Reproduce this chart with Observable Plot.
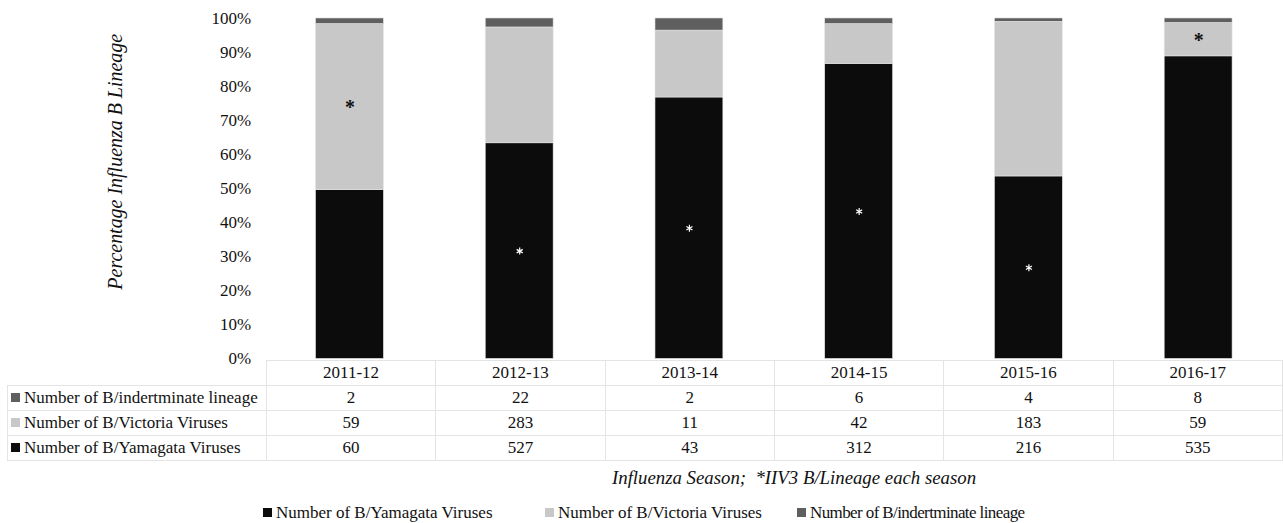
<!DOCTYPE html>
<html>
<head>
<meta charset="utf-8">
<script src="https://cdn.jsdelivr.net/npm/d3@7"></script>
<script src="https://cdn.jsdelivr.net/npm/@observablehq/plot@0.6"></script>
<style>
  html, body { margin: 0; padding: 0; background: #fff; overflow: hidden; }
  body { font-family: "Liberation Serif", "Times New Roman", Tinos, serif; color: #111; }
  #wrap { position: relative; width: 1283px; height: 523px; }
  #chart { position: absolute; left: 0; top: 0; }
  table.dt { position: absolute; left: 7px; top: 360px; border-collapse: collapse; font-size: 17px; }
  table.dt td { border: 1px solid #e4e4e4; text-align: center; padding: 0; height: 24px; line-height: 20px; }
  table.dt td.lab { text-align: left; width: 255px; padding-left: 3px; white-space: nowrap; }
  table.dt td.num { width: 169px; }
  table.dt tr.head td.empty { border: none; border-bottom: 1px solid #e4e4e4; }
  .sw { display: inline-block; width: 9px; height: 9px; margin-right: 4px; vertical-align: 1px; }
  #xtitle { position: absolute; top: 467px; left: 612px; font-size: 18.8px; font-style: italic; white-space: nowrap; }
  #legend .item { position: absolute; top: 503px; font-size: 17px; white-space: nowrap; }
</style>
</head>
<body>
<div id="wrap">
  <div id="chart"></div>
  <div id="table"></div>
  <div id="xtitle">Influenza Season;&nbsp; *IIV3 B/Lineage each season</div>
  <div id="legend"></div>
</div>
<script>
const seasons = ["2011-12", "2012-13", "2013-14", "2014-15", "2015-16", "2016-17"];
const yamagata = [60, 527, 43, 312, 216, 535];
const victoria = [59, 283, 11, 42, 183, 59];
const indeterminate = [2, 22, 2, 6, 4, 8];
// lineage included in IIV3 each season (asterisk)
const iiv3Lineage = ["Victoria", "Yamagata", "Yamagata", "Yamagata", "Yamagata", "Victoria"];
const yTicks = [0, 0.1, 0.2, 0.3, 0.4, 0.5, 0.6, 0.7, 0.8, 0.9, 1];

const seriesNames = {
  Yamagata: "Number of B/Yamagata Viruses",
  Victoria: "Number of B/Victoria Viruses",
  Indeterminate: "Number of B/indertminate lineage"
};
const colors = { Yamagata: "#0c0c0c", Victoria: "#c8c8c8", Indeterminate: "#5f5f5f" };
const order = ["Yamagata", "Victoria", "Indeterminate"];

const rows = [];
seasons.forEach((s, i) => {
  rows.push({ season: s, lineage: "Yamagata", n: yamagata[i], star: iiv3Lineage[i] === "Yamagata" });
  rows.push({ season: s, lineage: "Victoria", n: victoria[i], star: iiv3Lineage[i] === "Victoria" });
  rows.push({ season: s, lineage: "Indeterminate", n: indeterminate[i], star: false });
});

const fontStack = "'Liberation Serif', 'Times New Roman', Tinos, serif";
const stackOpts = { x: "season", y: "n", z: "lineage", order: order, offset: "normalize" };

const chart = Plot.plot({
  width: 1285,
  height: 361,
  marginLeft: 265,
  marginRight: 0,
  marginTop: 18,
  marginBottom: 2,
  style: { fontFamily: fontStack, fontSize: "17px", color: "#111", overflow: "visible" },
  x: { domain: seasons, paddingInner: 0.6, paddingOuter: 0.3, axis: null },
  y: { domain: [0, 1], ticks: yTicks, tickFormat: d3.format(".0%"), tickSize: 0, tickPadding: 14, label: null },
  color: { domain: order, range: order.map(k => colors[k]) },
  marks: [
    Plot.barY(rows, Plot.stackY({ ...stackOpts, fill: "lineage", stroke: "#e6e6e6", strokeWidth: 0.6 })),
    // asterisks: white on Yamagata segments (filtered after stacking)
    Plot.dot(rows, Plot.filter(d => d.star && d.lineage === "Yamagata", Plot.stackY({
      ...stackOpts, symbol: "asterisk", r: 3.3, stroke: "#ffffff", strokeWidth: 1.2
    }))),
    // asterisks: black bold on Victoria segments
    Plot.text(rows, Plot.filter(d => d.star && d.lineage === "Victoria", Plot.stackY({
      ...stackOpts, text: () => "*", fill: "#111111", fontSize: 20, fontWeight: "bold", dy: 1
    }))),
    Plot.text(["Percentage Influenza B Lineage"], {
      frameAnchor: "left", rotate: -90, textAnchor: "middle", dx: -150, dy: -27,
      fontStyle: "italic", fontSize: 20
    })
  ]
});
document.getElementById("chart").appendChild(chart);

// data table
const tbl = document.createElement("table");
tbl.className = "dt";
let html = '<tr class="head"><td class="lab empty"></td>' + seasons.map(s => `<td class="num">${s}</td>`).join("") + "</tr>";
const tableRows = [["Indeterminate", indeterminate], ["Victoria", victoria], ["Yamagata", yamagata]];
for (const [k, vals] of tableRows) {
  html += `<tr><td class="lab"><span class="sw" style="background:${colors[k]}"></span>${seriesNames[k]}</td>` +
    vals.map(v => `<td class="num">${v}</td>`).join("") + "</tr>";
}
tbl.innerHTML = html;
document.getElementById("table").appendChild(tbl);

// legend
const legendLeft = { Yamagata: 263, Victoria: 545, Indeterminate: 797 };
const legendSpacing = { Yamagata: "0px", Victoria: "0px", Indeterminate: "-0.6px" };
document.getElementById("legend").innerHTML = order.map(k =>
  `<span class="item" style="left:${legendLeft[k]}px;letter-spacing:${legendSpacing[k]}"><span class="sw" style="background:${colors[k]}"></span>${seriesNames[k]}</span>`).join("");
</script>
</body>
</html>
